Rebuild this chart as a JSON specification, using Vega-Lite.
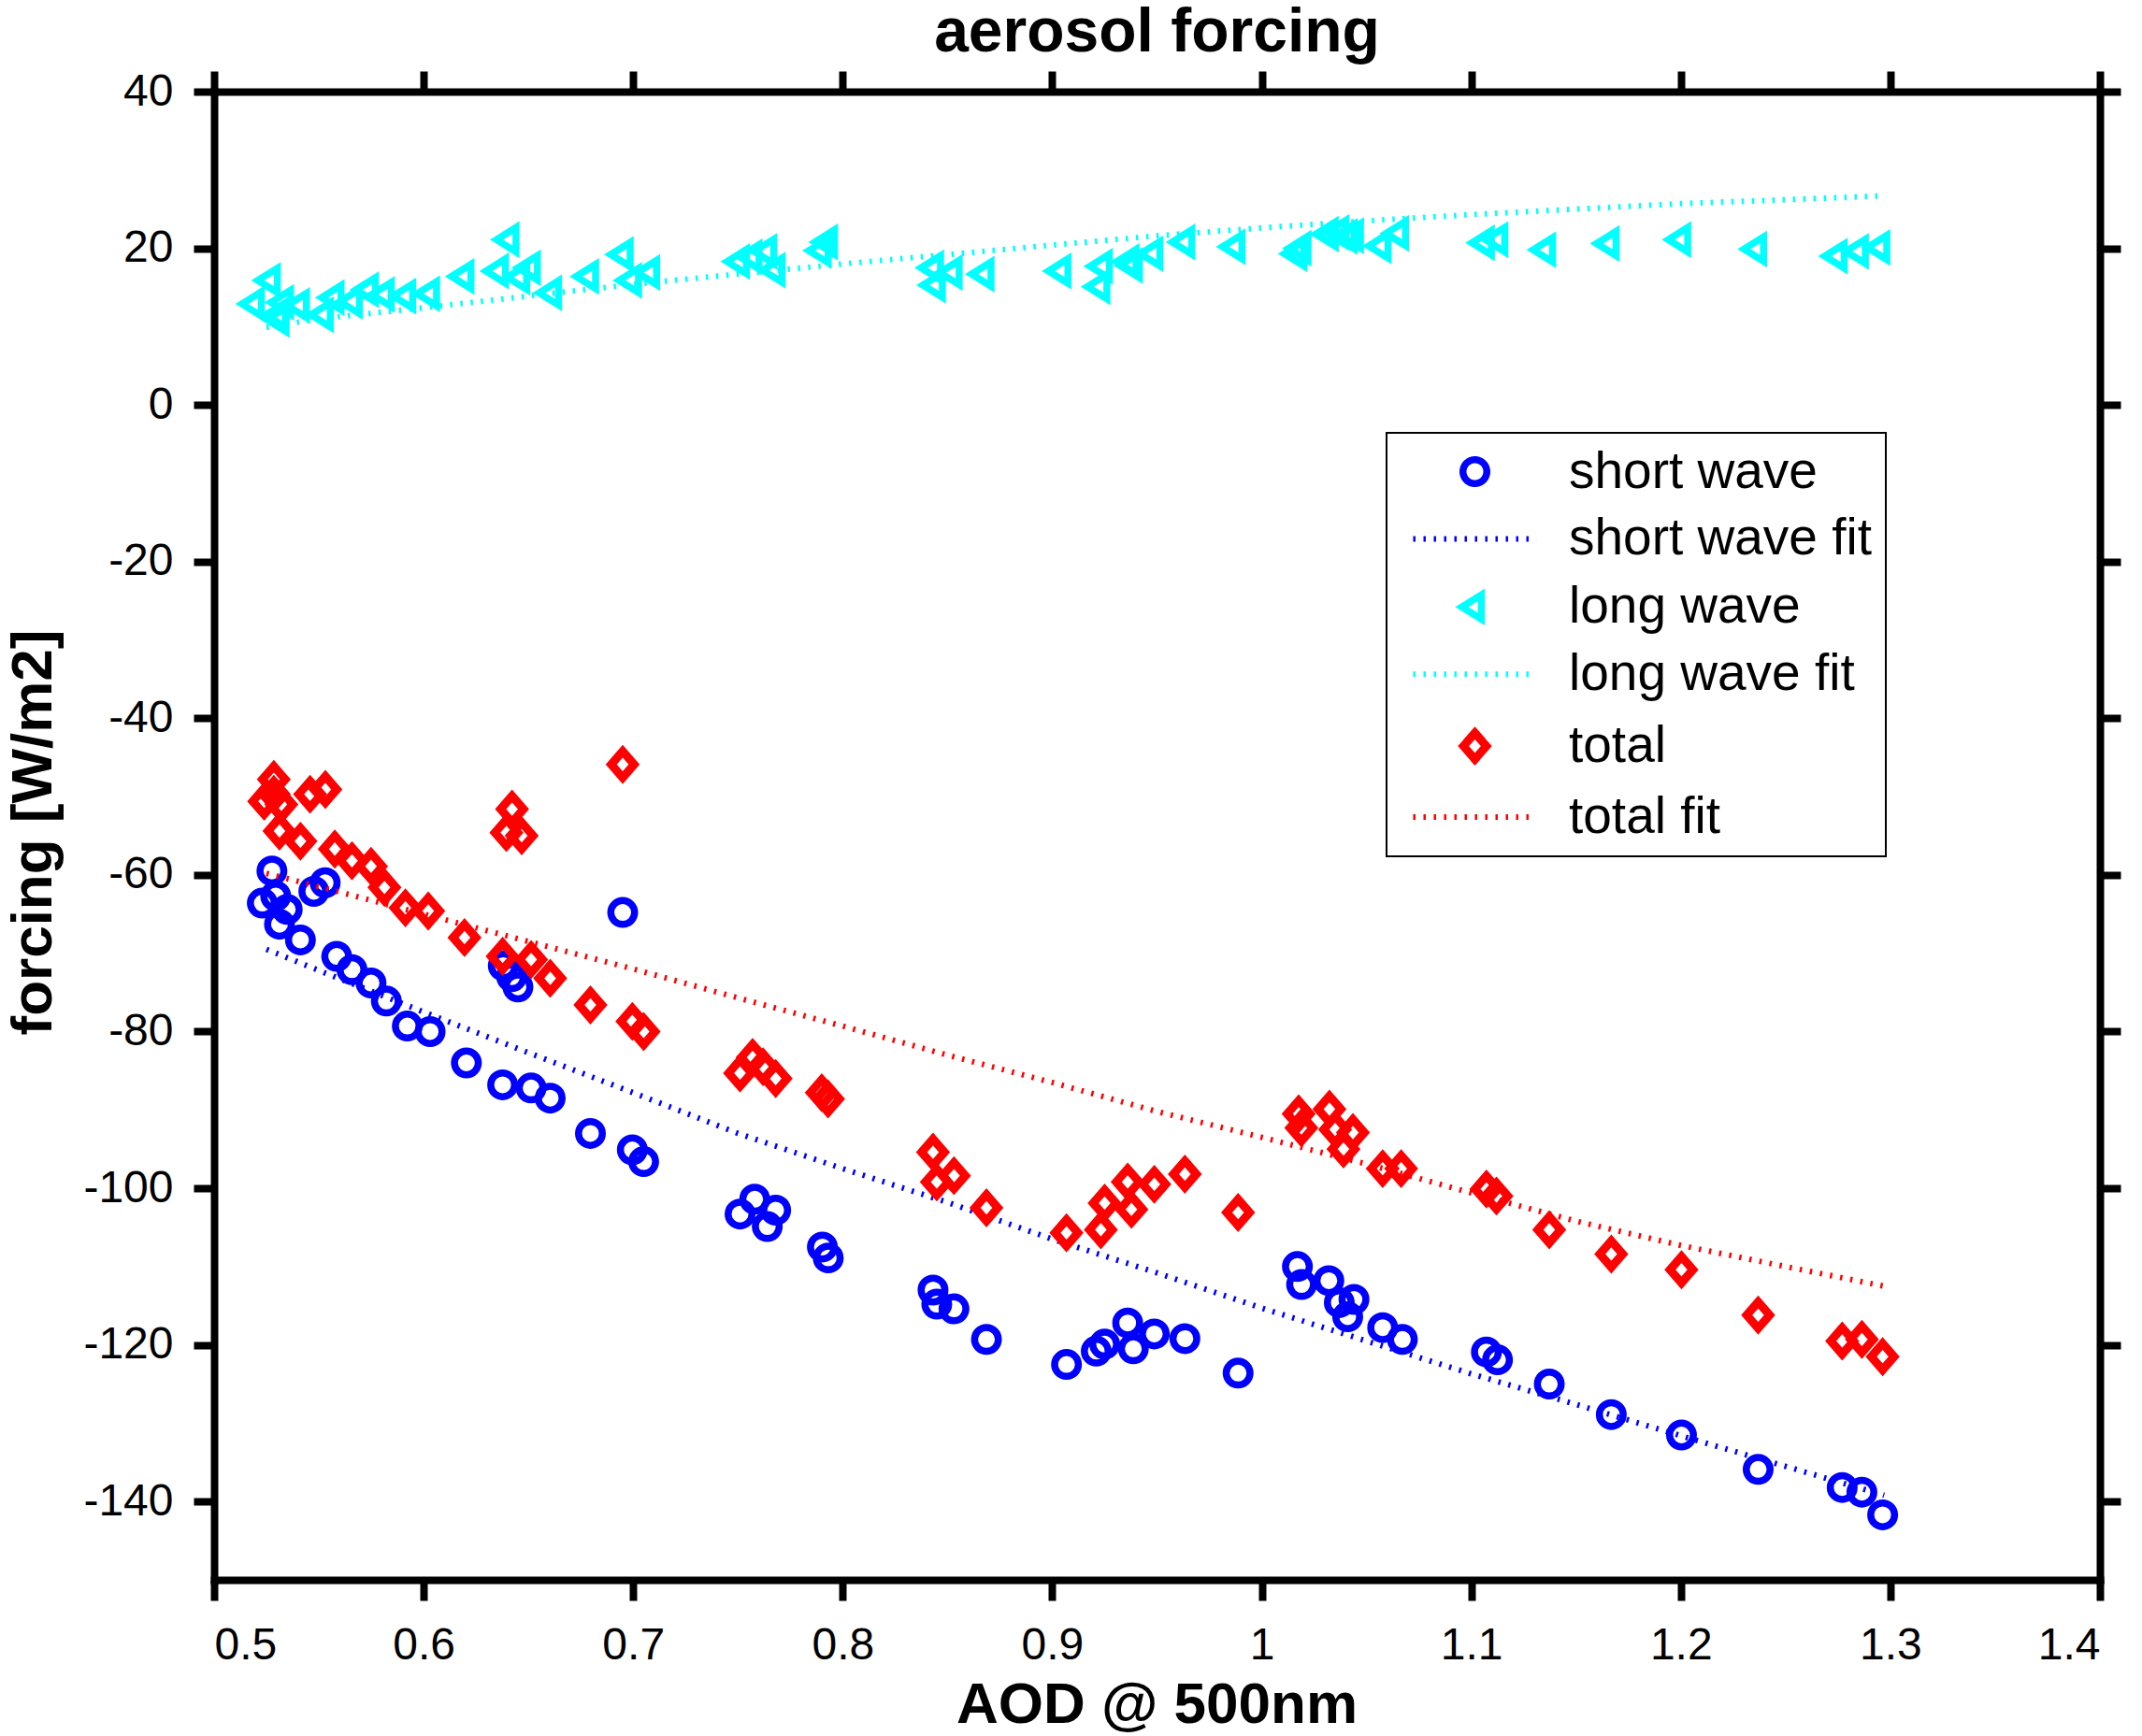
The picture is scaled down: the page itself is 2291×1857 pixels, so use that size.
{
  "$schema": "https://vega.github.io/schema/vega-lite/v6.json",
  "width": 2017,
  "height": 1592,
  "autosize": {"type": "none"},
  "padding": {"left": 229, "top": 98, "right": 45, "bottom": 167},
  "background": "white",
  "config": {
    "view": {"stroke": null},
    "axis": {
      "grid": false,
      "domainColor": "black",
      "domainWidth": 8,
      "domainCap": "square",
      "tickColor": "black",
      "tickWidth": 8,
      "tickSize": 22,
      "labelFont": "Liberation Sans",
      "labelFontSize": 48,
      "labelColor": "black",
      "titleFont": "Liberation Sans",
      "titleFontWeight": "bold",
      "titleColor": "black"
    },
    "legend": {
      "orient": "none",
      "legendX": 1254,
      "legendY": 365,
      "direction": "vertical",
      "labelFont": "Liberation Sans",
      "labelFontSize": 55,
      "labelColor": "black",
      "labelLimit": 0,
      "padding": 14,
      "rowPadding": 15.9,
      "symbolOffset": 53,
      "labelOffset": 73,
      "strokeColor": "black",
      "fillColor": "white"
    }
  },
  "datasets": {
    "sw": [
      {"aod": 0.523, "forcing": -63.6}, {"aod": 0.5276, "forcing": -59.5}, {"aod": 0.5294, "forcing": -62.7}, {"aod": 0.5349, "forcing": -64.4},
      {"aod": 0.5312, "forcing": -66.3}, {"aod": 0.5476, "forcing": -62.1}, {"aod": 0.553, "forcing": -61.0}, {"aod": 0.5412, "forcing": -68.3},
      {"aod": 0.5585, "forcing": -70.4}, {"aod": 0.5658, "forcing": -72.1}, {"aod": 0.5749, "forcing": -73.8}, {"aod": 0.5822, "forcing": -76.1},
      {"aod": 0.5922, "forcing": -79.3}, {"aod": 0.6031, "forcing": -80.0}, {"aod": 0.6204, "forcing": -84.0}, {"aod": 0.6377, "forcing": -86.8},
      {"aod": 0.6513, "forcing": -87.2}, {"aod": 0.6604, "forcing": -88.5}, {"aod": 0.638, "forcing": -71.6}, {"aod": 0.642, "forcing": -73.0},
      {"aod": 0.645, "forcing": -74.3}, {"aod": 0.695, "forcing": -64.8}, {"aod": 0.6796, "forcing": -93.0}, {"aod": 0.6996, "forcing": -95.1},
      {"aod": 0.705, "forcing": -96.6}, {"aod": 0.751, "forcing": -103.3}, {"aod": 0.758, "forcing": -101.4}, {"aod": 0.764, "forcing": -104.9},
      {"aod": 0.768, "forcing": -102.8}, {"aod": 0.7903, "forcing": -107.5}, {"aod": 0.7931, "forcing": -108.9}, {"aod": 0.8431, "forcing": -113.0},
      {"aod": 0.8449, "forcing": -114.8}, {"aod": 0.8531, "forcing": -115.4}, {"aod": 0.8686, "forcing": -119.3}, {"aod": 0.9068, "forcing": -122.5},
      {"aod": 0.921, "forcing": -120.8}, {"aod": 0.925, "forcing": -119.9}, {"aod": 0.936, "forcing": -117.2}, {"aod": 0.9387, "forcing": -120.5},
      {"aod": 0.9487, "forcing": -118.6}, {"aod": 0.9633, "forcing": -119.2}, {"aod": 0.9887, "forcing": -123.6}, {"aod": 1.017, "forcing": -110.0},
      {"aod": 1.019, "forcing": -112.3}, {"aod": 1.032, "forcing": -111.8}, {"aod": 1.037, "forcing": -114.6}, {"aod": 1.041, "forcing": -116.4},
      {"aod": 1.044, "forcing": -114.2}, {"aod": 1.0577, "forcing": -117.8}, {"aod": 1.0671, "forcing": -119.3}, {"aod": 1.1072, "forcing": -120.9},
      {"aod": 1.1125, "forcing": -121.9}, {"aod": 1.1372, "forcing": -125.0}, {"aod": 1.1668, "forcing": -128.9}, {"aod": 1.2003, "forcing": -131.5},
      {"aod": 1.2369, "forcing": -135.9}, {"aod": 1.277, "forcing": -138.2}, {"aod": 1.2864, "forcing": -138.8}, {"aod": 1.2963, "forcing": -141.7}
    ],
    "lw": [
      {"aod": 0.5195, "forcing": 12.9}, {"aod": 0.5271, "forcing": 15.9}, {"aod": 0.5309, "forcing": 11.5}, {"aod": 0.5334, "forcing": 13.1},
      {"aod": 0.5313, "forcing": 10.9}, {"aod": 0.541, "forcing": 12.7}, {"aod": 0.5524, "forcing": 11.5}, {"aod": 0.5575, "forcing": 13.7},
      {"aod": 0.5663, "forcing": 13.2}, {"aod": 0.5739, "forcing": 14.7}, {"aod": 0.5815, "forcing": 14.1}, {"aod": 0.5917, "forcing": 13.9},
      {"aod": 0.6031, "forcing": 14.2}, {"aod": 0.6195, "forcing": 16.4}, {"aod": 0.641, "forcing": 21.1}, {"aod": 0.636, "forcing": 17.1},
      {"aod": 0.6461, "forcing": 16.3}, {"aod": 0.6512, "forcing": 17.5}, {"aod": 0.6613, "forcing": 14.3}, {"aod": 0.679, "forcing": 16.4},
      {"aod": 0.6955, "forcing": 19.2}, {"aod": 0.6995, "forcing": 15.9}, {"aod": 0.7081, "forcing": 16.9}, {"aod": 0.751, "forcing": 18.3},
      {"aod": 0.757, "forcing": 18.9}, {"aod": 0.764, "forcing": 19.6}, {"aod": 0.768, "forcing": 17.2}, {"aod": 0.79, "forcing": 19.7},
      {"aod": 0.793, "forcing": 20.8}, {"aod": 0.8436, "forcing": 17.5}, {"aod": 0.8445, "forcing": 15.3}, {"aod": 0.8525, "forcing": 16.9},
      {"aod": 0.8677, "forcing": 16.7}, {"aod": 0.9044, "forcing": 17.1}, {"aod": 0.923, "forcing": 15.1}, {"aod": 0.9242, "forcing": 17.7},
      {"aod": 0.9369, "forcing": 18.3}, {"aod": 0.9385, "forcing": 17.8}, {"aod": 0.9483, "forcing": 19.3}, {"aod": 0.9635, "forcing": 20.8},
      {"aod": 0.9875, "forcing": 20.2}, {"aod": 1.017, "forcing": 19.3}, {"aod": 1.019, "forcing": 20.0}, {"aod": 1.032, "forcing": 21.8},
      {"aod": 1.037, "forcing": 22.0}, {"aod": 1.041, "forcing": 21.5}, {"aod": 1.044, "forcing": 21.6}, {"aod": 1.0572, "forcing": 20.3},
      {"aod": 1.0655, "forcing": 21.9}, {"aod": 1.1065, "forcing": 20.7}, {"aod": 1.1129, "forcing": 21.1}, {"aod": 1.1357, "forcing": 19.8},
      {"aod": 1.166, "forcing": 20.6}, {"aod": 1.2002, "forcing": 21.1}, {"aod": 1.2364, "forcing": 19.9}, {"aod": 1.2749, "forcing": 19.0},
      {"aod": 1.285, "forcing": 19.6}, {"aod": 1.2952, "forcing": 20.1}
    ],
    "tot": [
      {"aod": 0.5239, "forcing": -50.6}, {"aod": 0.5285, "forcing": -47.8}, {"aod": 0.5285, "forcing": -49.7}, {"aod": 0.5321, "forcing": -51.0},
      {"aod": 0.5312, "forcing": -54.4}, {"aod": 0.5412, "forcing": -55.7}, {"aod": 0.5458, "forcing": -49.7}, {"aod": 0.5531, "forcing": -49.1},
      {"aod": 0.5576, "forcing": -56.7}, {"aod": 0.5658, "forcing": -58.2}, {"aod": 0.5749, "forcing": -58.9}, {"aod": 0.5813, "forcing": -61.6},
      {"aod": 0.5913, "forcing": -64.2}, {"aod": 0.6022, "forcing": -64.6}, {"aod": 0.6195, "forcing": -68.0}, {"aod": 0.6422, "forcing": -51.6},
      {"aod": 0.6395, "forcing": -54.6}, {"aod": 0.6468, "forcing": -55.0}, {"aod": 0.6377, "forcing": -70.4}, {"aod": 0.6513, "forcing": -70.8},
      {"aod": 0.6604, "forcing": -73.2}, {"aod": 0.695, "forcing": -45.9}, {"aod": 0.6796, "forcing": -76.6}, {"aod": 0.6996, "forcing": -78.7},
      {"aod": 0.705, "forcing": -80.0}, {"aod": 0.751, "forcing": -85.3}, {"aod": 0.757, "forcing": -83.3}, {"aod": 0.762, "forcing": -84.5},
      {"aod": 0.768, "forcing": -86.0}, {"aod": 0.79, "forcing": -87.8}, {"aod": 0.793, "forcing": -88.6}, {"aod": 0.8431, "forcing": -95.4},
      {"aod": 0.8449, "forcing": -99.2}, {"aod": 0.8531, "forcing": -98.4}, {"aod": 0.8686, "forcing": -102.5}, {"aod": 0.9068, "forcing": -105.7},
      {"aod": 0.9232, "forcing": -105.3}, {"aod": 0.925, "forcing": -101.9}, {"aod": 0.936, "forcing": -99.2}, {"aod": 0.9378, "forcing": -102.7},
      {"aod": 0.9487, "forcing": -99.5}, {"aod": 0.9633, "forcing": -98.2}, {"aod": 0.9887, "forcing": -103.1}, {"aod": 1.0176, "forcing": -90.5},
      {"aod": 1.0189, "forcing": -92.3}, {"aod": 1.0323, "forcing": -89.9}, {"aod": 1.035, "forcing": -92.5}, {"aod": 1.0435, "forcing": -92.9},
      {"aod": 1.039, "forcing": -95.0}, {"aod": 1.0577, "forcing": -97.5}, {"aod": 1.0665, "forcing": -97.5}, {"aod": 1.1072, "forcing": -100.1},
      {"aod": 1.112, "forcing": -101.0}, {"aod": 1.1372, "forcing": -105.3}, {"aod": 1.1668, "forcing": -108.4}, {"aod": 1.2003, "forcing": -110.4},
      {"aod": 1.2369, "forcing": -116.2}, {"aod": 1.277, "forcing": -119.5}, {"aod": 1.2864, "forcing": -119.3}, {"aod": 1.2963, "forcing": -121.5}
    ],
    "swfit": [
      {"aod": 0.525, "forcing": -69.5}, {"aod": 0.55, "forcing": -72.2}, {"aod": 0.6, "forcing": -77.5}, {"aod": 0.65, "forcing": -82.7},
      {"aod": 0.7, "forcing": -87.8}, {"aod": 0.75, "forcing": -93.0}, {"aod": 0.8, "forcing": -97.5}, {"aod": 0.85, "forcing": -101.8},
      {"aod": 0.9, "forcing": -106.5}, {"aod": 0.95, "forcing": -110.8}, {"aod": 1.0, "forcing": -115.3}, {"aod": 1.05, "forcing": -119.5},
      {"aod": 1.1, "forcing": -123.7}, {"aod": 1.15, "forcing": -127.6}, {"aod": 1.2, "forcing": -131.6}, {"aod": 1.25, "forcing": -135.5},
      {"aod": 1.297, "forcing": -139.2}
    ],
    "lwfit": [
      {"aod": 0.525, "forcing": 9.9}, {"aod": 0.55, "forcing": 11.0}, {"aod": 0.6, "forcing": 12.4}, {"aod": 0.65, "forcing": 13.9},
      {"aod": 0.7, "forcing": 15.4}, {"aod": 0.75, "forcing": 16.7}, {"aod": 0.8, "forcing": 18.0}, {"aod": 0.85, "forcing": 19.2},
      {"aod": 0.9, "forcing": 20.4}, {"aod": 0.95, "forcing": 21.6}, {"aod": 1.0, "forcing": 22.6}, {"aod": 1.05, "forcing": 23.5},
      {"aod": 1.1, "forcing": 24.3}, {"aod": 1.15, "forcing": 25.0}, {"aod": 1.2, "forcing": 25.7}, {"aod": 1.25, "forcing": 26.2},
      {"aod": 1.297, "forcing": 26.7}
    ],
    "totfit": [
      {"aod": 0.525, "forcing": -59.8}, {"aod": 0.55, "forcing": -61.5}, {"aod": 0.6, "forcing": -65.0}, {"aod": 0.65, "forcing": -68.5},
      {"aod": 0.7, "forcing": -72.0}, {"aod": 0.75, "forcing": -75.7}, {"aod": 0.8, "forcing": -79.3}, {"aod": 0.85, "forcing": -83.0},
      {"aod": 0.9, "forcing": -86.5}, {"aod": 0.95, "forcing": -90.2}, {"aod": 1.0, "forcing": -93.5}, {"aod": 1.05, "forcing": -96.9},
      {"aod": 1.1, "forcing": -100.6}, {"aod": 1.15, "forcing": -104.2}, {"aod": 1.2, "forcing": -107.3}, {"aod": 1.25, "forcing": -110.0},
      {"aod": 1.297, "forcing": -112.5}
    ]
  },
  "resolve": {"axis": {"x": "independent", "y": "independent"}},
  "layer": [
    {
      "data": {"name": "sw"},
      "mark": {"type": "point", "shape": "circle", "filled": false, "strokeWidth": 7.5, "size": 650, "opacity": 1},
      "encoding": {
        "x": {
          "field": "aod", "type": "quantitative",
          "scale": {"domain": [0.5, 1.4], "nice": false, "zero": false},
          "axis": {
            "orient": "bottom",
            "values": [0.5, 0.6, 0.7, 0.8, 0.9, 1, 1.1, 1.2, 1.3, 1.4],
            "labelExpr": "'' + datum.value",
            "labelPadding": 24,
            "title": "AOD @ 500nm",
            "titleFontSize": 62,
            "titleX": 1008,
            "titleY": 152,
            "titleAlign": "center",
            "titleBaseline": "alphabetic"
          }
        },
        "y": {
          "field": "forcing", "type": "quantitative",
          "scale": {"domain": [-150, 40], "nice": false, "zero": false},
          "axis": {
            "orient": "left",
            "values": [-140, -120, -100, -80, -60, -40, -20, 0, 20, 40],
            "labelExpr": "'' + datum.value",
            "labelPadding": 22,
            "title": "forcing [W/m2]",
            "titleFontSize": 62,
            "titleAngle": -90,
            "titleX": -175,
            "titleY": 792,
            "titleAlign": "center",
            "titleBaseline": "alphabetic"
          }
        },
        "color": {
          "datum": "short wave",
          "type": "nominal",
          "scale": {
            "domain": ["short wave", "short wave fit", "long wave", "long wave fit", "total", "total fit"],
            "range": ["#0000ff", "#0000ff", "#00ffff", "#00ffff", "#ff0000", "#ff0000"]
          },
          "legend": {
            "title": null,
            "encode": {
              "legend": {"update": {"strokeWidth": {"value": 2}}},
              "symbols": {
                "update": {
                  "shape": {"signal": "datum.value === 'short wave' ? 'circle' : datum.value === 'long wave' ? 'M-1.07,0L0.53,-1L0.53,1Z' : datum.value === 'total' ? 'M-1,0L0,-1.15L1,0L0,1.15Z' : 'M-4.1,0L4.1,0'"},
                  "size": {"signal": "datum.value === 'short wave' ? 650 : datum.value === 'long wave' ? 676 : datum.value === 'total' ? 600 : 1037"},
                  "strokeWidth": {"signal": "datum.value === 'total' ? 9 : (datum.value === 'short wave' || datum.value === 'long wave') ? 7.5 : 6"},
                  "strokeDash": {"signal": "indexof(datum.value, 'fit') >= 0 ? [2.5, 8.5] : [1, 0]"},
                  "stroke": {"signal": "scale('color', datum.value)"},
                  "fill": {"value": "transparent"},
                  "opacity": {"value": 1}
                }
              }
            }
          }
        }
      }
    },
    {
      "data": {"name": "swfit"},
      "mark": {"type": "line", "strokeWidth": 6, "strokeDash": [2.5, 8.5]},
      "encoding": {
        "x": {
          "field": "aod", "type": "quantitative",
          "axis": {
            "orient": "top",
            "values": [0.5, 0.6, 0.7, 0.8, 0.9, 1, 1.1, 1.2, 1.3, 1.4],
            "labels": false,
            "title": "aerosol forcing",
            "titleFontSize": 66,
            "titleX": 1008,
            "titleY": -44,
            "titleAlign": "center",
            "titleBaseline": "alphabetic"
          }
        },
        "y": {
          "field": "forcing", "type": "quantitative",
          "axis": {"orient": "right", "values": [-140, -120, -100, -80, -60, -40, -20, 0, 20, 40], "labels": false, "title": null}
        },
        "color": {
          "datum": "short wave fit", "type": "nominal",
          "legend": {
            "title": null,
            "encode": {
              "legend": {"update": {"strokeWidth": {"value": 2}}},
              "symbols": {
                "update": {
                  "shape": {"signal": "datum.value === 'short wave' ? 'circle' : datum.value === 'long wave' ? 'M-1.07,0L0.53,-1L0.53,1Z' : datum.value === 'total' ? 'M-1,0L0,-1.15L1,0L0,1.15Z' : 'M-4.1,0L4.1,0'"},
                  "size": {"signal": "datum.value === 'short wave' ? 650 : datum.value === 'long wave' ? 676 : datum.value === 'total' ? 600 : 1037"},
                  "strokeWidth": {"signal": "datum.value === 'total' ? 9 : (datum.value === 'short wave' || datum.value === 'long wave') ? 7.5 : 6"},
                  "strokeDash": {"signal": "indexof(datum.value, 'fit') >= 0 ? [2.5, 8.5] : [1, 0]"},
                  "stroke": {"signal": "scale('color', datum.value)"},
                  "fill": {"value": "transparent"},
                  "opacity": {"value": 1}
                }
              }
            }
          }
        }
      }
    },
    {
      "data": {"name": "lw"},
      "mark": {"type": "point", "shape": "M-1.07,0L0.53,-1L0.53,1Z", "filled": false, "strokeWidth": 7.5, "size": 676, "opacity": 1},
      "encoding": {
        "x": {"field": "aod", "type": "quantitative", "axis": null},
        "y": {"field": "forcing", "type": "quantitative", "axis": null},
        "color": {
          "datum": "long wave", "type": "nominal",
          "legend": {
            "title": null,
            "encode": {
              "legend": {"update": {"strokeWidth": {"value": 2}}},
              "symbols": {
                "update": {
                  "shape": {"signal": "datum.value === 'short wave' ? 'circle' : datum.value === 'long wave' ? 'M-1.07,0L0.53,-1L0.53,1Z' : datum.value === 'total' ? 'M-1,0L0,-1.15L1,0L0,1.15Z' : 'M-4.1,0L4.1,0'"},
                  "size": {"signal": "datum.value === 'short wave' ? 650 : datum.value === 'long wave' ? 676 : datum.value === 'total' ? 600 : 1037"},
                  "strokeWidth": {"signal": "datum.value === 'total' ? 9 : (datum.value === 'short wave' || datum.value === 'long wave') ? 7.5 : 6"},
                  "strokeDash": {"signal": "indexof(datum.value, 'fit') >= 0 ? [2.5, 8.5] : [1, 0]"},
                  "stroke": {"signal": "scale('color', datum.value)"},
                  "fill": {"value": "transparent"},
                  "opacity": {"value": 1}
                }
              }
            }
          }
        }
      }
    },
    {
      "data": {"name": "lwfit"},
      "mark": {"type": "line", "strokeWidth": 6, "strokeDash": [2.5, 8.5]},
      "encoding": {
        "x": {"field": "aod", "type": "quantitative", "axis": null},
        "y": {"field": "forcing", "type": "quantitative", "axis": null},
        "color": {
          "datum": "long wave fit", "type": "nominal",
          "legend": {
            "title": null,
            "encode": {
              "legend": {"update": {"strokeWidth": {"value": 2}}},
              "symbols": {
                "update": {
                  "shape": {"signal": "datum.value === 'short wave' ? 'circle' : datum.value === 'long wave' ? 'M-1.07,0L0.53,-1L0.53,1Z' : datum.value === 'total' ? 'M-1,0L0,-1.15L1,0L0,1.15Z' : 'M-4.1,0L4.1,0'"},
                  "size": {"signal": "datum.value === 'short wave' ? 650 : datum.value === 'long wave' ? 676 : datum.value === 'total' ? 600 : 1037"},
                  "strokeWidth": {"signal": "datum.value === 'total' ? 9 : (datum.value === 'short wave' || datum.value === 'long wave') ? 7.5 : 6"},
                  "strokeDash": {"signal": "indexof(datum.value, 'fit') >= 0 ? [2.5, 8.5] : [1, 0]"},
                  "stroke": {"signal": "scale('color', datum.value)"},
                  "fill": {"value": "transparent"},
                  "opacity": {"value": 1}
                }
              }
            }
          }
        }
      }
    },
    {
      "data": {"name": "tot"},
      "mark": {"type": "point", "shape": "M-1,0L0,-1.15L1,0L0,1.15Z", "filled": false, "strokeWidth": 9, "size": 600, "opacity": 1},
      "encoding": {
        "x": {"field": "aod", "type": "quantitative", "axis": null},
        "y": {"field": "forcing", "type": "quantitative", "axis": null},
        "color": {
          "datum": "total", "type": "nominal",
          "legend": {
            "title": null,
            "encode": {
              "legend": {"update": {"strokeWidth": {"value": 2}}},
              "symbols": {
                "update": {
                  "shape": {"signal": "datum.value === 'short wave' ? 'circle' : datum.value === 'long wave' ? 'M-1.07,0L0.53,-1L0.53,1Z' : datum.value === 'total' ? 'M-1,0L0,-1.15L1,0L0,1.15Z' : 'M-4.1,0L4.1,0'"},
                  "size": {"signal": "datum.value === 'short wave' ? 650 : datum.value === 'long wave' ? 676 : datum.value === 'total' ? 600 : 1037"},
                  "strokeWidth": {"signal": "datum.value === 'total' ? 9 : (datum.value === 'short wave' || datum.value === 'long wave') ? 7.5 : 6"},
                  "strokeDash": {"signal": "indexof(datum.value, 'fit') >= 0 ? [2.5, 8.5] : [1, 0]"},
                  "stroke": {"signal": "scale('color', datum.value)"},
                  "fill": {"value": "transparent"},
                  "opacity": {"value": 1}
                }
              }
            }
          }
        }
      }
    },
    {
      "data": {"name": "totfit"},
      "mark": {"type": "line", "strokeWidth": 6, "strokeDash": [2.5, 8.5]},
      "encoding": {
        "x": {"field": "aod", "type": "quantitative", "axis": null},
        "y": {"field": "forcing", "type": "quantitative", "axis": null},
        "color": {
          "datum": "total fit", "type": "nominal",
          "legend": {
            "title": null,
            "encode": {
              "legend": {"update": {"strokeWidth": {"value": 2}}},
              "symbols": {
                "update": {
                  "shape": {"signal": "datum.value === 'short wave' ? 'circle' : datum.value === 'long wave' ? 'M-1.07,0L0.53,-1L0.53,1Z' : datum.value === 'total' ? 'M-1,0L0,-1.15L1,0L0,1.15Z' : 'M-4.1,0L4.1,0'"},
                  "size": {"signal": "datum.value === 'short wave' ? 650 : datum.value === 'long wave' ? 676 : datum.value === 'total' ? 600 : 1037"},
                  "strokeWidth": {"signal": "datum.value === 'total' ? 9 : (datum.value === 'short wave' || datum.value === 'long wave') ? 7.5 : 6"},
                  "strokeDash": {"signal": "indexof(datum.value, 'fit') >= 0 ? [2.5, 8.5] : [1, 0]"},
                  "stroke": {"signal": "scale('color', datum.value)"},
                  "fill": {"value": "transparent"},
                  "opacity": {"value": 1}
                }
              }
            }
          }
        }
      }
    }
  ]
}
